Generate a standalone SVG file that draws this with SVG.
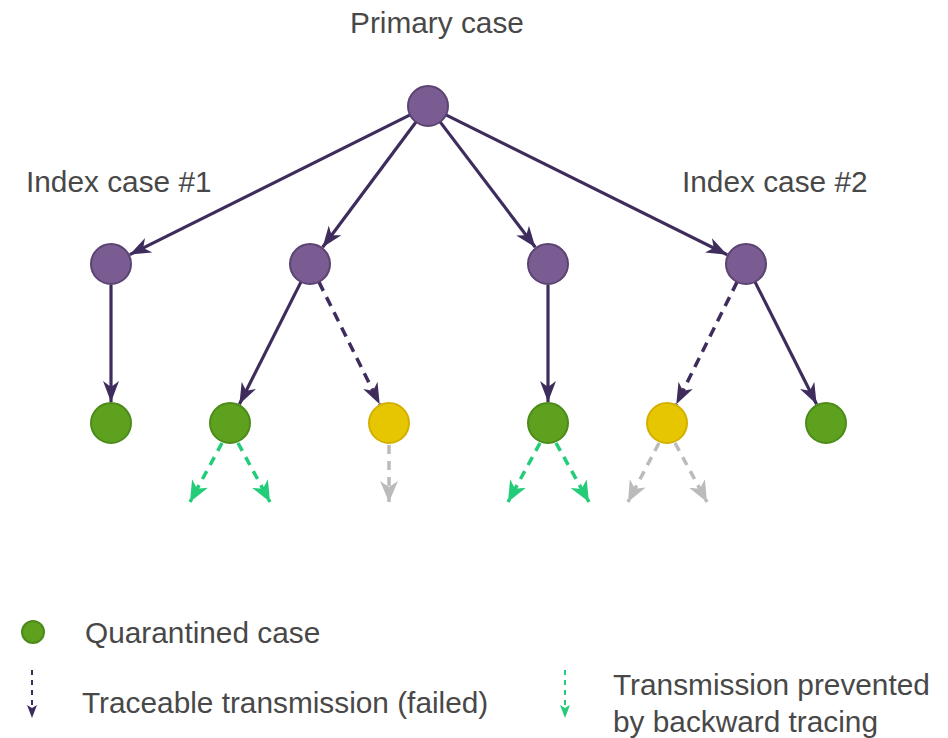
<svg xmlns="http://www.w3.org/2000/svg" width="948" height="738" viewBox="0 0 948 738">
<defs>
<style>
text{font-family:"Liberation Sans",Arial,sans-serif;font-size:29.8px;fill:#484848}
.node-p{fill:#7a5c92;stroke:#5b4472;stroke-width:2}
.node-g{fill:#5da11f;stroke:#4c8b1a;stroke-width:2}
.node-y{fill:#e6c600;stroke:#d3b000;stroke-width:2}
.e{fill:none;stroke:#3e2c5c;stroke-width:3.2}
.ed{fill:none;stroke:#3e2c5c;stroke-width:3.5;stroke-dasharray:10 7}
.eg{fill:none;stroke:#22cc78;stroke-width:3.5;stroke-dasharray:9 7}
.ey{fill:none;stroke:#bbbbbb;stroke-width:3.5;stroke-dasharray:9 7}
</style>
<marker id="ap" markerUnits="userSpaceOnUse" markerWidth="22" markerHeight="16" refX="21" refY="8" orient="auto"><path d="M0,0 L21,8 L0,16 L6,8 z" fill="#3e2c5c"/></marker>
<marker id="ag" markerUnits="userSpaceOnUse" markerWidth="22" markerHeight="18" refX="21" refY="9" orient="auto"><path d="M0,0 L21,9 L0,18 L6,9 z" fill="#22cc78"/></marker>
<marker id="ay" markerUnits="userSpaceOnUse" markerWidth="22" markerHeight="18" refX="21" refY="9" orient="auto"><path d="M0,0 L21,9 L0,18 L6,9 z" fill="#bbbbbb"/></marker>
<marker id="lp" markerUnits="userSpaceOnUse" markerWidth="14" markerHeight="10" refX="13" refY="5" orient="auto"><path d="M0,0 L13,5 L0,10 L3,5 z" fill="#3e2c5c"/></marker>
<marker id="lg" markerUnits="userSpaceOnUse" markerWidth="14" markerHeight="10" refX="13" refY="5" orient="auto"><path d="M0,0 L13,5 L0,10 L3,5 z" fill="#22cc78"/></marker>
</defs>
<rect width="948" height="738" fill="#ffffff"/>

<g id="connectors">
<line class="e" x1="410.1" y1="114.9" x2="129.8" y2="254.6" marker-end="url(#ap)"/>
<line class="e" x1="416" y1="122" x2="322.6" y2="247.2" marker-end="url(#ap)"/>
<line class="e" x1="440.1" y1="121.9" x2="535.3" y2="247.3" marker-end="url(#ap)"/>
<line class="e" x1="445.9" y1="114.9" x2="727.2" y2="254.7" marker-end="url(#ap)"/>
<line class="e" x1="111" y1="285" x2="111" y2="402" marker-end="url(#ap)"/>
<line class="e" x1="301" y1="281.9" x2="239.4" y2="404.2" marker-end="url(#ap)"/>
<line class="ed" x1="318.9" y1="281.9" x2="379.7" y2="404.2" marker-end="url(#ap)"/>
<line class="e" x1="548" y1="285" x2="548" y2="402" marker-end="url(#ap)"/>
<line class="ed" x1="737.1" y1="281.9" x2="676.3" y2="404.2" marker-end="url(#ap)"/>
<line class="e" x1="755" y1="281.9" x2="816.6" y2="404.2" marker-end="url(#ap)"/>
<line class="eg" x1="222" y1="443" x2="190" y2="502" marker-end="url(#ag)"/>
<line class="eg" x1="238" y1="443" x2="270" y2="502" marker-end="url(#ag)"/>
<line class="ey" x1="389" y1="445" x2="389" y2="502" marker-end="url(#ay)"/>
<line class="eg" x1="540" y1="443" x2="508" y2="502" marker-end="url(#ag)"/>
<line class="eg" x1="556" y1="443" x2="589" y2="502" marker-end="url(#ag)"/>
<line class="ey" x1="659" y1="443" x2="628" y2="502" marker-end="url(#ay)"/>
<line class="ey" x1="675" y1="443" x2="707" y2="502" marker-end="url(#ay)"/>
</g>

<g id="primary"><circle class="node-p" cx="428" cy="106" r="20"/><text x="437" y="33" text-anchor="middle">Primary case</text></g>
<g id="index1"><circle class="node-p" cx="111" cy="264" r="20"/><text x="26" y="192">Index case #1</text></g>
<g id="case-b"><circle class="node-p" cx="310" cy="264" r="20"/></g>
<g id="case-c"><circle class="node-p" cx="548" cy="264" r="20"/></g>
<g id="index2"><circle class="node-p" cx="746" cy="264" r="20"/><text x="682" y="192">Index case #2</text></g>
<g id="g1"><circle class="node-g" cx="111" cy="423" r="20"/></g>
<g id="g2"><circle class="node-g" cx="230" cy="423" r="20"/></g>
<g id="y1"><circle class="node-y" cx="389" cy="423" r="20"/></g>
<g id="g3"><circle class="node-g" cx="548" cy="423" r="20"/></g>
<g id="y2"><circle class="node-y" cx="667" cy="423" r="20"/></g>
<g id="g4"><circle class="node-g" cx="826" cy="423" r="20"/></g>

<g id="legend">
<circle class="node-g" cx="33" cy="632" r="11"/>
<text x="85" y="643">Quarantined case</text>
<line x1="32" y1="670" x2="32" y2="718" stroke="#3e2c5c" stroke-width="2" stroke-dasharray="5 5" marker-end="url(#lp)"/>
<text x="82" y="713">Traceable transmission (failed)</text>
<line x1="565" y1="670" x2="565" y2="718" stroke="#22cc78" stroke-width="2" stroke-dasharray="5 5" marker-end="url(#lg)"/>
<text x="613" y="695">Transmission prevented</text>
<text x="613" y="732">by backward tracing</text>
</g>
</svg>
